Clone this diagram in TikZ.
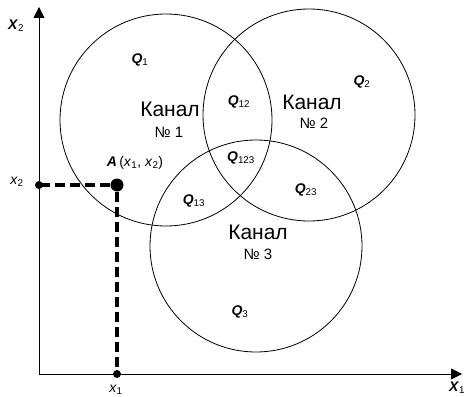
\documentclass[tikz,border=0pt]{standalone}
\usepackage{fontspec}
\setmainfont{Liberation Sans}
\usetikzlibrary{arrows.meta}
\newcommand{\qlab}[1]{\textbf{\textit{Q}}\textsubscript{#1}}

\begin{document}
\begin{tikzpicture}[x=1pt, y=-1pt,
    chan/.style={draw, line width=0.8pt},
    axis/.style={line width=0.8pt, -{Triangle[length=11pt,width=11pt]}},
    proj/.style={line width=3.5pt, dash pattern=on 10pt off 5pt},
    lab/.style={font=\fontsize{14}{16}\selectfont, inner sep=0pt},
    chname/.style={font=\fontsize{21}{23}\selectfont, inner sep=0pt},
    chnum/.style={font=\fontsize{15}{17}\selectfont, inner sep=0pt}]
    \useasboundingbox (0,0) rectangle (468,396);

    % Axes
    \coordinate (O) at (39,374);
    \coordinate (X1end) at (462,374);
    \coordinate (X2end) at (39,7);
    \draw[axis] (O) -- (X1end);
    \draw[axis] (O) -- (X2end);
    \node[lab] (X1) at (457,388) {\textbf{\textit{X}}\textsubscript{1}};
    \node[lab] (X2) at (16,26) {\textbf{\textit{X}}\textsubscript{2}};

    % Channels
    \draw[chan] (166,120) circle[radius=106pt];
    \draw[chan] (309,115) circle[radius=106pt];
    \draw[chan] (256,246) circle[radius=106pt];
    \node[chname] (ch1) at (170,109) {Канал};
    \node[chnum] (n1) at (169,132) {№ 1};
    \node[chname] (ch2) at (312,102) {Канал};
    \node[chnum] (n2) at (314,123) {№ 2};
    \node[chname] (ch3) at (258,232) {Канал};
    \node[chnum] (n3) at (258,254) {№ 3};

    % Regions
    \node[lab] (q1) at (140,60) {\qlab{1}};
    \node[lab] (q2) at (362,82) {\qlab{2}};
    \node[lab] (q3) at (240,312) {\qlab{3}};
    \node[lab] (q12) at (239,102) {\qlab{12}};
    \node[lab] (q13) at (194,201) {\qlab{13}};
    \node[lab] (q23) at (306,190) {\qlab{23}};
    \node[lab] (q123) at (241,158) {\qlab{123}};

    % Point A and its projections
    \node[circle, fill, inner sep=0pt, minimum size=13pt] (A) at (117,185) {};
    \node[circle, fill, inner sep=0pt, minimum size=8pt] (px2) at (39,185) {};
    \node[circle, fill, inner sep=0pt, minimum size=8pt] (px1) at (117,374) {};
    \draw[proj] (A) -- (px2.center);
    \draw[proj] (A) -- (px1.center);
    \node[lab] (Alab) at (135,163) {\textbf{\textit{A}}\,(\textit{x}\textsubscript{1}, \textit{x}\textsubscript{2})};
    \node[lab] (x2lab) at (17,182) {\textit{x}\textsubscript{2}};
    \node[lab] (x1lab) at (116,390) {\textit{x}\textsubscript{1}};
\end{tikzpicture}
\end{document}
